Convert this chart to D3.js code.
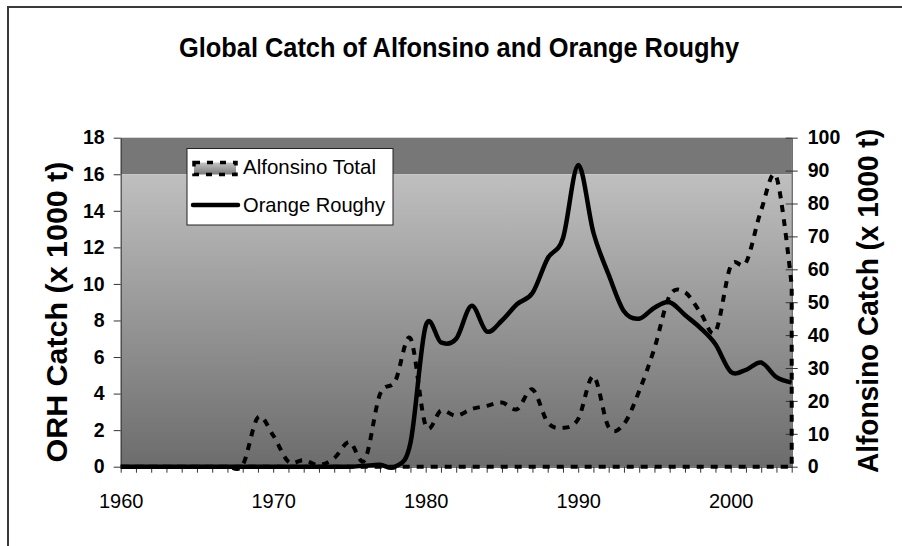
<!DOCTYPE html>
<html lang="en">
<head>
<meta charset="utf-8">
<script src="https://d3js.org/d3.v7.min.js"></script>
<style type="text/css">
body {
	margin: 0;
	background: #fff;
	font-family: "Liberation Sans", Arial, sans-serif;
}
</style>
</head>
<body>
<script type="text/javascript">

// data
var years = [1960, 1961, 1962, 1963, 1964, 1965, 1966, 1967, 1968, 1969,
             1970, 1971, 1972, 1973, 1974, 1975, 1976, 1977, 1978, 1979,
             1980, 1981, 1982, 1983, 1984, 1985, 1986, 1987, 1988, 1989,
             1990, 1991, 1992, 1993, 1994, 1995, 1996, 1997, 1998, 1999,
             2000, 2001, 2002, 2003, 2004];

// Orange Roughy catch, x 1000 t (left axis)
var orangeRoughy = [0, 0, 0, 0, 0, 0, 0, 0, 0, 0,
                    0, 0, 0, 0, 0, 0, 0.05, 0.1, 0, 1.3,
                    7.7, 6.8, 7.0, 8.8, 7.4, 8.0, 8.9, 9.5, 11.4, 12.5,
                    16.5, 12.8, 10.5, 8.5, 8.1, 8.7, 9.0, 8.3, 7.6, 6.7,
                    5.2, 5.3, 5.7, 4.9, 4.6];

// Alfonsino total catch, x 1000 t (right axis)
var alfonsino = [0, 0, 0, 0, 0, 0, 0, 0, 0.5, 15,
                 9.5, 1.5, 2.0, 0.5, 2.6, 7.5, 2, 22, 26, 39,
                 12.5, 17, 15.5, 17.5, 18.5, 19.5, 17.5, 23.5, 13.5, 11.8,
                 14.5, 27.5, 12, 13, 23, 36, 52, 53, 47, 41,
                 61, 62, 78, 88, 55];

var leftTicks = [0, 2, 4, 6, 8, 10, 12, 14, 16, 18];
var rightTicks = [0, 10, 20, 30, 40, 50, 60, 70, 80, 90, 100];
var xLabels = [1960, 1970, 1980, 1990, 2000];

var width = 902;
var height = 546;
var plot = {left: 120.7, right: 791.7, top: 137.7, bottom: 466.7};

var svg = d3.select("body")
			.append("svg")
			.attr("width", width)
			.attr("height", height);

// chart frame (cut off at right and bottom in the picture)
svg.append("rect")
	.attr("x", 8).attr("y", 7)
	.attr("width", 1000).attr("height", 1000)
	.attr("fill", "#fff")
	.attr("stroke", "#3a3a3a")
	.attr("stroke-width", 2);

var x = d3.scaleLinear().domain([1960, 2004]).range([plot.left, plot.right]);
var yL = d3.scaleLinear().domain([0, 18]).range([plot.bottom, plot.top]);
var yR = d3.scaleLinear().domain([0, 100]).range([plot.bottom, plot.top]);

var defs = svg.append("defs");
var bg = defs.append("linearGradient").attr("id", "bg")
	.attr("x1", 0).attr("y1", 0).attr("x2", 0).attr("y2", 1);
bg.append("stop").attr("offset", "0%").attr("stop-color", "#bfbfbf");
bg.append("stop").attr("offset", "100%").attr("stop-color", "#6c6c6c");

var lg = defs.append("linearGradient").attr("id", "lg")
	.attr("x1", 0).attr("y1", 0).attr("x2", 0).attr("y2", 1);
lg.append("stop").attr("offset", "0%").attr("stop-color", "#c4c4c4");
lg.append("stop").attr("offset", "100%").attr("stop-color", "#7a7a7a");

// plot area: dark band on top, gradient below
svg.append("rect")
	.attr("x", plot.left).attr("y", yL(18))
	.attr("width", plot.right - plot.left)
	.attr("height", yL(16) - yL(18))
	.attr("fill", "#777");
svg.append("rect")
	.attr("x", plot.left).attr("y", yL(16))
	.attr("width", plot.right - plot.left)
	.attr("height", yL(0) - yL(16))
	.attr("fill", "url(#bg)");

// axes
var xAxis = svg.append("g")
	.attr("transform", "translate(0," + plot.bottom + ")")
	.call(d3.axisBottom(x)
		.tickValues(years)
		.tickSize(6)
		.tickSizeOuter(0)
		.tickFormat(function(d) { return xLabels.indexOf(d) >= 0 ? d : ""; }));
xAxis.selectAll("text")
	.attr("y", 41.3).attr("dy", 0)
	.style("font-size", "20px")
	.style("font-family", "'Liberation Sans', Arial, sans-serif")
	.attr("fill", "#000");

var leftAxis = svg.append("g")
	.attr("transform", "translate(" + plot.left + ",0)")
	.call(d3.axisLeft(yL).tickValues(leftTicks).tickSize(7).tickSizeOuter(0).tickPadding(9));
leftAxis.selectAll("text")
	.style("font-size", "19.5px")
	.style("font-weight", "bold")
	.style("font-family", "'Liberation Sans', Arial, sans-serif")
	.attr("fill", "#000");

var rightAxis = svg.append("g")
	.attr("transform", "translate(" + plot.right + ",0)")
	.call(d3.axisRight(yR).tickValues(rightTicks).tickSize(6).tickSizeOuter(0).tickPadding(10));
rightAxis.selectAll(".tick line").attr("x1", -6);
rightAxis.selectAll("text")
	.style("font-size", "19.5px")
	.style("font-weight", "bold")
	.style("font-family", "'Liberation Sans', Arial, sans-serif")
	.attr("fill", "#000");

svg.selectAll(".domain").attr("stroke", "#333");
svg.selectAll(".tick line").attr("stroke", "#333");

// Alfonsino Total: dashed outline of an area down to zero
var area = d3.area()
	.x(function(d, i) { return x(years[i]); })
	.y0(yR(0))
	.y1(function(d) { return yR(d); })
	.curve(d3.curveCardinal.tension(0));

svg.append("path")
	.datum(alfonsino)
	.attr("d", area)
	.attr("fill", "none")
	.attr("stroke", "#000")
	.attr("stroke-width", 4)
	.attr("stroke-dasharray", "7,7");

// Orange Roughy: thick smoothed line
var line = d3.line()
	.x(function(d, i) { return x(years[i]); })
	.y(function(d) { return yL(d); })
	.curve(d3.curveCardinal.tension(0));

svg.append("path")
	.datum(orangeRoughy)
	.attr("d", line)
	.attr("fill", "none")
	.attr("stroke", "#000")
	.attr("stroke-width", 4.5)
	.attr("stroke-linejoin", "round");

// titles
svg.append("text")
	.attr("x", 459).attr("y", 57)
	.attr("text-anchor", "middle")
	.attr("textLength", 560)
	.attr("lengthAdjust", "spacingAndGlyphs")
	.style("font-size", "28px")
	.style("font-weight", "bold")
	.text("Global Catch of Alfonsino and Orange Roughy");

svg.append("text")
	.attr("transform", "translate(67,312) rotate(-90)")
	.attr("text-anchor", "middle")
	.attr("textLength", 301)
	.attr("lengthAdjust", "spacingAndGlyphs")
	.style("font-size", "30px")
	.style("font-weight", "bold")
	.text("ORH Catch (x 1000 t)");

svg.append("text")
	.attr("transform", "translate(878,301) rotate(-90)")
	.attr("text-anchor", "middle")
	.attr("textLength", 344)
	.attr("lengthAdjust", "spacingAndGlyphs")
	.style("font-size", "30px")
	.style("font-weight", "bold")
	.text("Alfonsino Catch (x 1000 t)");

// legend
var legend = svg.append("g");
legend.append("rect")
	.attr("x", 187).attr("y", 148.5)
	.attr("width", 206).attr("height", 76.5)
	.attr("fill", "#fff")
	.attr("stroke", "#222")
	.attr("stroke-width", 1);

legend.append("rect")
	.attr("x", 194).attr("y", 162.5)
	.attr("width", 42).attr("height", 12)
	.attr("fill", "url(#lg)")
	.attr("stroke", "#000")
	.attr("stroke-width", 3.5)
	.attr("stroke-dasharray", "6,7");

legend.append("line")
	.attr("x1", 193).attr("x2", 238)
	.attr("y1", 205).attr("y2", 205)
	.attr("stroke", "#000")
	.attr("stroke-width", 4.5)
	.attr("stroke-linecap", "round");

legend.append("text")
	.attr("x", 243).attr("y", 174)
	.attr("textLength", 133)
	.attr("lengthAdjust", "spacingAndGlyphs")
	.style("font-size", "21px")
	.text("Alfonsino Total");

legend.append("text")
	.attr("x", 243).attr("y", 212)
	.attr("textLength", 142)
	.attr("lengthAdjust", "spacingAndGlyphs")
	.style("font-size", "21px")
	.text("Orange Roughy");

</script>
</body>
</html>
